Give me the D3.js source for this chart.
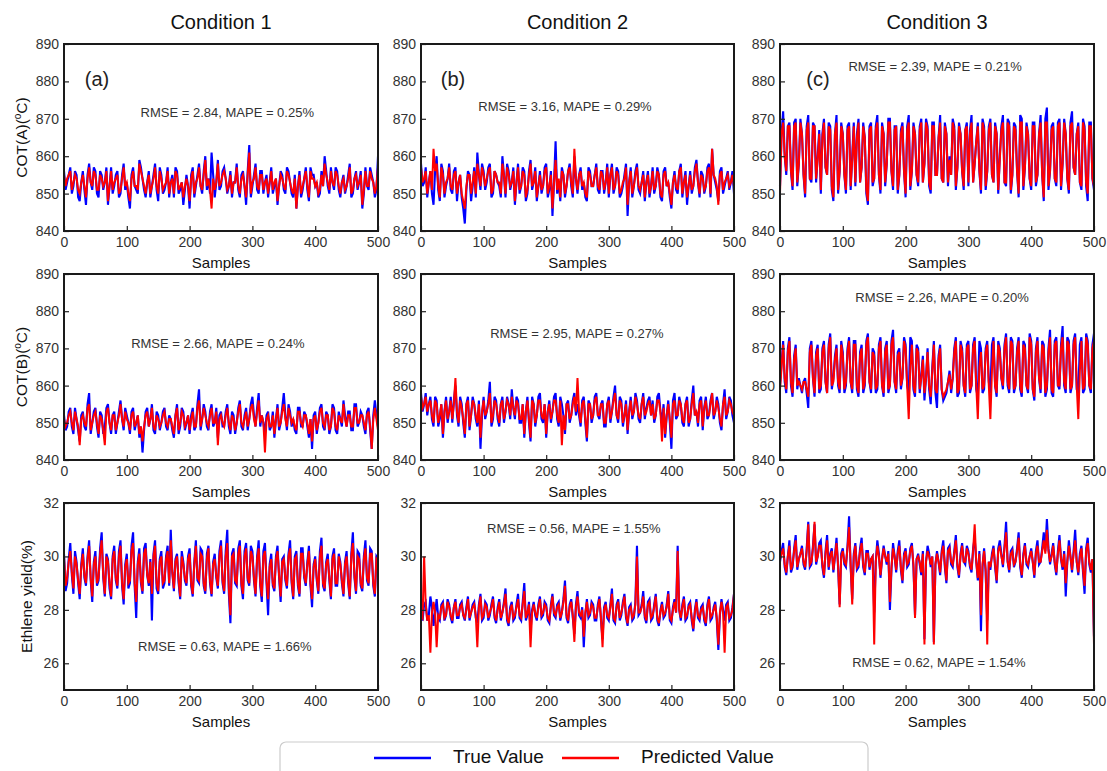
<!DOCTYPE html>
<html>
<head>
<meta charset="UTF-8">
<title>True vs Predicted</title>
<script src="https://cdn.jsdelivr.net/npm/d3@7"></script>
<style>
  body { margin: 0; background: #fff; }
  svg { display: block; font-family: 'Liberation Sans', Arial, sans-serif; }
  .tick text { fill: #333; font-size: 14px; }
  .tick line { stroke: #222; stroke-width: 1.2; }
</style>
</head>
<body>
<svg id="chart" width="1107" height="771"></svg>
<script>
// column titles / row labels
const conditions = ['Condition 1', 'Condition 2', 'Condition 3'];
const rowLabels = ['COT(A)', 'COT(B)', 'Ethlene yield(%)'];
const xTicks = [0, 100, 200, 300, 400, 500];
const cotTicks = [840, 850, 860, 870, 880, 890];
const yieldTicks = [26, 28, 30, 32];

// values, one every 2.5 samples (0..500)
// COT(A)
const trueA1 = [856,851,853,855,857,850,852,856,855,849,848,853,856,851,847,855,858,853,851,857,856,850,849,856,855,851,853,857,847,852,857,850,852,855,856,849,850,855,858,851,853,849,846,855,857,852,851,850,859,857,854,851,849,853,856,849,852,855,858,851,848,857,855,850,851,853,857,849,853,855,849,857,856,850,851,853,847,851,855,852,846,855,857,849,852,855,858,852,850,856,860,851,854,850,861,855,849,853,859,851,852,856,857,854,850,852,856,849,853,853,858,851,849,855,856,852,847,856,863,849,852,855,858,851,850,856,856,850,853,855,849,853,857,850,852,854,847,852,856,855,851,850,857,856,853,850,849,855,846,852,856,849,851,854,857,851,848,857,855,855,852,853,849,850,856,852,860,856,852,850,857,853,851,857,856,851,849,853,855,850,852,855,858,849,850,854,856,851,853,856,846,850,857,852,851,857,855,853,849,851,860];
const predA1 = [855,852,854,855,856,851,853,855,854,851,850,853,855,852,849,854,857,853,852,856,855,851,851,855,854,852,853,856,848,852,856,851,853,854,855,850,851,854,857,852,853,850,848,854,856,852,852,851,858,856,854,852,850,853,855,850,852,854,857,852,850,856,854,851,852,853,856,850,853,854,850,856,855,851,852,853,849,852,854,852,848,854,856,850,853,854,857,852,851,855,859,852,854,851,846,854,851,853,858,852,853,855,856,854,851,852,855,850,853,853,857,852,850,854,855,852,849,855,861,850,853,854,857,852,851,855,855,851,853,854,850,853,856,851,853,854,848,852,855,854,852,851,856,855,853,851,850,854,846,852,855,850,852,854,856,852,849,856,854,854,852,853,850,851,855,852,858,855,853,851,856,853,852,856,855,852,850,853,854,851,852,854,857,850,851,854,855,852,853,855,847,851,856,852,852,856,854,853,850,852,857];
const trueA2 = [858,852,853,857,849,853,856,850,847,856,860,851,848,858,856,849,852,854,858,851,850,856,857,848,853,855,849,846,842,851,856,855,848,852,857,849,861,855,851,858,856,851,853,857,858,849,850,856,855,853,852,849,860,855,849,858,856,851,853,857,847,853,858,850,852,857,856,848,850,856,859,851,853,857,848,852,856,850,852,857,858,849,851,856,844,853,864,850,853,848,857,855,849,852,856,858,852,849,860,854,850,855,857,851,853,849,848,857,856,852,852,855,858,851,850,856,856,850,853,858,849,855,858,850,852,857,856,849,850,852,855,858,844,853,857,849,852,856,858,851,850,853,856,848,853,856,849,852,857,850,852,857,855,849,848,856,857,852,853,849,846,853,856,851,850,856,858,849,853,856,847,852,856,850,852,857,859,853,849,856,855,850,852,857,858,849,862,855,853,851,848,856,857,850,852,854,856,851,853,856,850];
const predA2 = [857,853,854,856,850,853,856,851,862,856,858,852,849,857,855,850,853,854,857,852,851,855,856,850,853,855,850,848,846,852,855,855,850,853,856,850,858,855,852,857,855,852,854,856,857,850,851,856,855,853,853,850,858,855,850,857,855,852,853,856,848,853,857,851,852,856,855,849,851,855,858,852,853,856,849,852,855,851,852,856,857,850,852,855,846,853,859,851,854,849,856,855,850,852,856,857,853,850,862,854,851,855,856,852,853,850,849,856,855,852,852,855,857,852,851,856,855,851,853,857,850,855,857,851,852,856,855,850,851,853,854,857,847,853,856,850,852,855,857,852,851,853,855,849,853,855,850,852,856,851,852,856,855,850,849,855,856,852,853,850,847,853,855,852,851,856,857,850,853,855,849,852,855,851,852,856,858,853,850,855,854,851,852,856,857,850,862,855,854,852,847,855,856,851,853,854,855,852,853,855,852];
const trueA3 = [852,866,872,860,855,868,869,856,851,869,870,852,858,870,866,855,849,868,871,854,853,869,868,853,860,867,850,866,870,857,855,869,868,851,848,866,871,850,856,869,866,855,850,868,869,851,860,869,852,866,870,853,857,869,865,850,847,868,869,852,854,868,871,855,850,869,866,852,858,870,870,856,851,868,868,850,855,867,869,856,849,868,871,851,856,869,866,855,852,868,870,853,858,870,868,852,850,869,869,855,855,865,871,854,853,869,866,852,860,855,870,868,851,857,869,866,856,851,867,869,852,867,871,853,858,864,869,856,850,870,868,851,856,868,870,855,853,869,866,850,860,868,871,853,852,870,869,850,855,869,868,856,849,871,870,851,857,869,866,854,851,869,869,852,855,866,871,855,848,870,873,851,856,868,869,854,852,869,870,851,858,870,866,854,850,869,872,857,855,866,869,853,851,870,868,852,848,869,869,854,851];
const predA3 = [850,866,869,860,856,868,868,856,852,868,869,853,858,869,866,855,850,867,869,854,854,868,868,854,859,866,851,865,869,857,855,868,867,852,849,866,869,851,856,868,866,855,851,867,868,852,859,868,853,865,869,853,857,868,865,851,848,867,868,853,854,867,869,855,851,868,866,853,858,869,869,856,852,867,868,851,855,866,868,856,850,867,869,852,856,868,866,855,853,867,869,853,858,869,867,853,851,868,868,855,855,865,869,854,853,868,866,853,859,855,869,867,852,857,868,866,856,852,867,868,853,866,869,853,858,864,868,856,851,869,867,852,856,867,869,855,853,868,866,851,859,867,869,853,853,869,868,851,855,868,867,856,850,869,869,852,857,868,866,854,852,868,868,853,855,866,869,855,849,869,869,852,856,867,868,854,853,868,869,852,858,869,866,854,851,868,869,857,855,866,868,853,852,869,867,853,850,868,868,854,852];

// COT(B)
const trueB1 = [852,848,849,853,854,849,847,854,851,848,845,852,853,849,848,855,858,847,850,853,854,849,846,853,852,847,849,854,855,850,847,852,853,847,850,853,856,851,848,854,852,850,847,853,854,848,850,852,846,849,842,848,853,854,849,851,855,848,847,853,852,848,850,853,854,849,848,852,851,848,846,852,855,847,849,854,853,848,850,852,847,852,854,848,849,855,859,848,851,855,853,849,848,853,855,849,850,854,846,852,853,849,849,853,855,849,847,853,852,847,850,854,856,849,848,852,854,848,851,855,857,852,849,854,858,849,852,850,847,852,853,848,849,853,846,851,855,848,850,854,858,852,848,855,853,849,851,848,847,854,854,849,849,853,852,849,846,851,843,852,853,847,850,854,855,849,848,853,852,847,849,855,854,848,847,853,851,849,856,852,849,853,853,848,848,855,855,849,850,853,852,849,847,853,854,848,843,852,856,852,849];
const predB1 = [851,849,850,852,853,850,848,853,851,849,844,851,852,850,849,854,855,848,850,852,853,850,847,852,851,848,844,853,854,850,848,852,852,848,850,852,855,851,849,853,851,850,848,852,853,849,850,852,847,849,845,849,852,853,849,851,854,849,848,852,851,849,850,852,853,850,849,851,851,849,847,852,854,848,850,853,852,849,850,852,848,851,853,849,849,854,856,849,851,854,852,850,849,852,854,850,850,853,844,851,852,850,849,852,854,850,848,852,851,848,850,853,855,850,849,851,853,849,851,854,855,851,849,853,856,850,852,850,842,851,852,849,849,852,847,851,854,849,850,853,855,851,849,854,852,850,851,849,848,853,853,850,849,852,852,850,847,851,845,851,852,848,850,853,854,850,849,852,852,848,849,854,853,849,848,852,851,850,855,851,849,852,852,849,849,854,854,850,850,852,852,850,848,852,853,849,843,851,854,851,848];
const trueB2 = [858,853,855,858,852,855,857,851,849,857,856,849,851,855,846,853,857,850,853,857,850,856,860,852,849,857,855,850,846,855,857,848,852,857,855,851,849,856,843,852,857,851,853,856,861,849,851,857,856,851,849,855,857,850,853,857,855,851,859,854,851,857,856,850,850,855,846,853,857,850,845,857,855,849,852,857,858,851,850,855,846,853,856,850,853,857,858,851,849,857,855,852,847,855,856,850,852,856,858,852,855,852,849,856,857,850,845,856,855,850,852,857,858,852,851,855,856,849,849,855,857,850,853,857,860,852,850,857,856,849,852,856,847,853,857,851,853,858,856,851,850,855,858,851,854,856,857,852,856,850,852,857,858,853,850,855,846,852,856,850,843,856,858,851,852,857,855,850,849,855,857,849,851,856,860,852,853,849,856,857,848,854,857,851,852,856,858,851,853,857,855,850,848,855,859,851,853,857,856,852,850];
const predB2 = [857,854,855,857,853,855,856,852,850,856,855,850,852,855,847,853,856,851,853,856,851,855,862,853,850,856,854,851,847,855,856,849,852,856,855,852,850,855,846,853,856,852,853,855,858,850,852,856,855,852,850,855,856,851,853,856,855,852,857,854,852,856,855,851,851,855,847,853,856,851,846,856,855,850,852,856,856,852,851,855,847,853,855,851,853,856,856,852,850,856,844,852,848,855,855,851,852,855,857,853,862,853,850,855,856,851,846,855,855,851,852,856,857,852,852,855,855,850,850,855,856,851,853,856,858,852,851,856,855,850,852,855,848,853,856,852,853,857,855,852,851,855,857,852,853,855,856,852,855,851,852,856,856,853,845,854,847,852,855,851,846,855,856,852,852,856,855,851,850,855,856,850,851,855,858,852,853,850,855,856,849,854,856,852,852,855,858,852,853,856,854,851,849,855,857,852,853,856,855,853,852];
const trueB3 = [860,866,872,861,858,870,873,860,857,868,871,859,862,860,858,861,862,858,854,870,872,862,857,869,871,858,859,870,872,861,858,871,874,859,862,868,871,860,858,872,869,858,860,870,873,861,858,872,872,859,857,869,871,858,860,872,874,861,858,870,869,858,859,871,873,860,857,870,872,858,860,872,875,861,858,869,870,859,862,873,871,860,858,873,872,859,857,871,870,858,863,868,856,862,870,859,855,865,872,858,854,868,871,859,856,857,858,861,864,858,862,870,873,857,858,872,870,860,857,871,872,858,860,871,873,859,857,872,870,858,859,870,872,861,858,871,873,860,857,872,870,862,859,871,874,860,858,873,872,858,860,870,873,859,857,872,871,860,858,874,872,859,856,870,873,862,858,872,871,857,859,870,875,858,857,872,873,860,859,871,876,860,858,873,872,858,860,872,874,859,858,871,873,858,859,874,872,860,858,871,874];
const predB3 = [859,865,871,862,859,869,872,861,858,867,870,860,861,860,859,861,861,859,857,869,871,862,858,868,870,859,860,869,871,861,858,870,873,860,861,867,870,861,859,871,868,859,861,869,872,861,859,871,871,860,858,868,870,859,861,871,873,861,859,869,868,859,860,870,872,860,858,869,871,859,860,871,873,861,859,868,869,860,862,872,870,860,851,865,871,860,858,870,869,859,862,867,858,862,869,860,857,864,871,859,858,867,870,859,857,858,859,861,863,859,862,869,872,858,859,871,869,860,858,870,871,859,860,870,872,860,851,865,869,859,860,869,871,860,851,864,872,860,858,871,869,862,860,870,873,861,859,872,871,859,860,869,872,860,858,871,870,860,859,873,871,859,857,869,872,862,859,871,870,858,860,869,873,859,858,871,872,860,860,870,873,861,859,872,871,859,860,871,873,860,851,864,872,859,860,873,871,860,859,870,872];

// Ethylene yield (%)
const trueE1 = [30.1,28.7,29.0,29.9,30.5,29.3,28.6,30.2,29.8,29.0,28.4,29.7,30.3,29.2,28.9,30.0,30.6,29.1,28.3,29.8,30.2,28.9,29.1,30.3,30.9,29.2,28.5,30.1,29.9,28.8,28.4,30.0,30.4,29.1,28.8,30.2,30.6,28.9,28.2,29.7,30.1,28.8,29.0,30.4,30.9,28.9,27.7,29.8,30.3,29.0,28.6,30.3,30.5,29.3,28.9,29.9,27.6,30.1,30.6,28.8,28.6,29.9,30.2,28.8,29.0,30.0,30.4,28.9,31.0,29.4,28.7,29.9,30.1,29.0,28.4,30.2,29.8,29.1,28.9,30.0,30.3,28.9,28.5,29.8,30.6,29.1,29.0,30.3,30.2,28.9,28.6,30.1,30.4,29.0,28.5,29.8,30.1,29.2,28.8,30.2,30.6,29.0,28.6,30.2,31.0,28.6,27.5,30.1,30.3,29.0,28.9,30.3,30.6,28.9,28.4,30.2,30.5,29.1,28.9,30.4,30.2,29.1,28.5,30.0,30.6,28.9,28.3,30.2,30.5,29.0,27.8,29.7,30.1,28.9,28.7,30.0,30.4,29.2,28.3,29.9,30.0,29.1,28.8,30.1,30.6,29.0,28.4,30.0,30.2,28.9,28.5,30.3,30.3,29.2,28.9,29.8,30.4,28.9,28.1,29.7,30.0,29.1,28.6,30.2,30.7,28.9,28.7,29.8,30.1,29.1,28.4,30.0,30.3,28.9,28.9,30.1,29.8,29.0,28.5,29.8,30.2,29.0,28.4,30.1,30.9,29.2,28.6,30.2,30.1,28.9,28.7,30.0,30.6,29.1,28.9,30.3,30.2,28.9,28.5,30.0,29.9];
const predE1 = [30.0,28.9,29.2,29.8,30.2,29.4,28.8,30.0,29.7,29.1,28.6,29.6,30.1,29.3,29.0,29.9,30.4,29.2,28.5,29.7,30.0,29.0,29.2,30.1,30.6,29.3,28.6,30.0,29.8,29.0,28.5,29.9,30.2,29.2,28.9,30.0,30.4,29.0,28.4,29.6,29.9,29.0,29.1,30.2,30.5,29.0,28.3,29.7,30.1,29.1,28.7,30.1,30.3,29.3,29.0,29.8,28.6,30.0,30.4,29.0,28.7,29.8,30.0,29.0,29.1,29.9,30.2,29.0,30.6,29.4,28.8,29.8,30.0,29.1,28.5,30.0,29.7,29.2,29.0,29.9,30.1,29.0,28.6,29.7,30.4,29.2,29.1,30.1,30.0,29.0,28.7,29.9,30.3,29.1,28.6,29.7,29.9,29.3,28.9,30.0,30.4,29.1,28.7,30.0,30.5,28.8,27.8,30.0,30.1,29.1,29.0,30.1,30.4,29.0,28.6,30.0,30.3,29.2,29.0,30.2,30.0,29.2,28.6,29.9,30.3,29.0,28.5,30.0,30.2,29.1,28.4,29.6,29.9,29.0,28.8,29.9,30.2,29.3,28.5,29.8,29.9,29.2,28.9,30.0,30.3,29.1,28.5,29.9,30.0,29.0,28.6,30.1,30.1,29.3,29.0,29.7,30.2,29.0,28.4,29.6,29.9,29.2,28.7,30.0,30.4,29.0,28.8,29.7,29.9,29.2,28.5,29.9,30.1,29.0,29.0,30.0,29.7,29.1,28.6,29.7,30.0,29.1,28.5,30.0,30.5,29.3,28.7,30.0,29.9,29.0,28.8,29.9,30.3,29.2,29.0,30.1,30.1,29.0,28.6,29.9,29.8];
const trueE2 = [27.9,27.6,28.2,28.3,27.6,27.8,28.5,28.1,27.4,27.9,28.4,27.7,27.6,28.2,28.3,27.6,27.8,28.4,28.2,27.7,27.5,28.1,28.4,27.7,27.7,28.2,28.3,27.8,27.6,28.1,28.5,27.6,27.9,28.2,28.3,27.7,27.5,28.2,28.6,27.6,27.7,28.3,28.2,27.6,27.8,28.2,28.5,27.7,27.5,28.1,28.4,27.6,27.9,28.3,28.8,27.6,27.4,28.1,28.3,27.6,27.7,28.2,28.6,27.7,27.6,28.3,29.0,27.6,27.8,28.3,27.2,28.0,28.3,27.8,27.6,28.2,28.5,27.7,27.8,28.3,28.2,27.6,27.5,28.2,28.6,27.8,27.7,28.2,28.3,27.6,27.9,28.4,29.1,27.7,27.5,28.2,28.4,27.7,27.1,28.2,28.7,27.8,27.7,28.1,26.6,27.8,28.4,27.7,27.8,28.3,28.2,27.6,27.6,28.2,28.5,27.6,26.9,28.1,28.3,27.7,27.6,28.2,28.8,27.6,27.5,28.2,28.4,27.6,27.8,28.3,28.6,27.7,27.4,28.1,28.2,27.6,27.7,28.3,30.4,27.8,27.9,28.2,28.7,27.7,27.5,28.3,28.4,27.6,27.7,28.2,28.6,27.6,27.4,28.0,28.3,27.7,27.8,28.2,28.7,27.6,27.5,28.1,28.4,27.9,30.4,28.0,27.6,28.2,28.5,27.6,27.7,28.2,28.3,27.6,27.2,28.0,28.4,27.7,27.6,28.1,28.2,27.6,27.4,28.2,28.5,27.6,27.7,28.1,28.3,27.6,26.5,27.8,28.4,28.0,27.6,28.2,28.3,27.6,27.7,28.1,28.6];
const predE2 = [27.8,27.7,30.0,28.2,27.6,27.8,26.4,27.9,28.3,27.9,26.6,27.8,27.7,28.1,28.2,27.7,27.8,28.3,28.1,27.8,27.6,28.1,28.3,27.8,27.8,28.1,28.2,27.8,27.7,28.0,28.4,27.7,27.9,28.1,28.2,27.8,26.6,28.1,28.5,27.7,27.8,28.2,28.1,27.7,27.9,28.1,28.4,27.8,27.6,28.0,28.3,27.7,27.9,28.2,28.6,27.7,27.5,28.0,28.2,27.7,27.8,28.1,28.4,27.8,27.7,28.2,28.7,27.7,27.9,28.2,26.6,27.9,28.2,27.9,27.7,28.1,28.4,27.8,27.9,28.2,28.1,27.7,27.6,28.1,28.5,27.9,27.8,28.1,28.2,27.7,27.9,28.3,28.9,27.8,27.6,28.1,28.3,27.8,26.8,28.1,28.5,27.9,27.8,28.0,27.0,27.9,28.3,27.8,27.9,28.2,28.1,27.7,27.7,28.1,28.4,27.7,26.6,28.0,28.2,27.8,27.7,28.1,28.6,27.7,27.6,28.1,28.3,27.7,27.9,28.2,28.5,27.8,27.5,28.0,28.1,27.7,27.8,28.2,30.0,27.9,27.9,28.1,28.5,27.8,27.6,28.2,28.3,27.7,27.8,28.1,28.5,27.7,27.5,27.9,28.2,27.8,27.9,28.1,28.6,27.7,27.6,28.0,28.3,27.9,30.2,28.0,27.7,28.1,28.4,27.7,27.8,28.1,28.2,27.7,27.3,27.9,28.3,27.8,27.7,28.0,28.1,27.7,27.5,28.1,28.4,27.7,27.8,28.0,28.2,27.7,26.7,27.9,28.3,27.9,26.4,28.1,28.2,27.7,27.8,28.0,28.6];
const trueE3 = [29.8,30.2,30.5,29.6,29.3,30.0,30.6,29.4,29.6,30.3,30.8,29.5,29.9,30.1,30.4,29.7,29.5,30.3,31.3,29.6,29.7,30.4,31.2,29.7,30.0,30.5,30.6,29.6,29.2,30.2,30.8,29.5,30.1,30.3,29.4,30.0,30.7,29.6,28.2,30.1,30.3,29.7,29.6,30.4,31.5,29.6,28.4,30.1,30.5,29.5,29.6,30.3,30.7,29.6,29.3,30.2,30.2,29.5,29.9,30.0,27.9,29.8,30.6,30.1,29.2,29.9,30.4,30.0,29.7,30.2,28.0,29.5,30.5,30.0,29.4,30.2,30.6,29.5,29.0,30.1,30.3,29.6,29.7,30.3,30.5,29.6,27.8,29.9,30.1,29.7,29.3,30.2,26.9,29.8,30.4,30.1,29.6,30.0,26.8,29.7,30.2,29.8,29.3,30.2,30.6,29.6,29.0,30.3,30.4,29.7,29.6,30.2,30.8,29.6,29.2,30.1,30.5,29.8,29.7,30.4,30.2,29.6,29.4,30.3,30.7,29.8,29.1,30.2,27.2,29.6,30.3,29.4,27.6,29.8,29.5,30.1,30.4,29.6,29.0,30.3,30.6,30.1,29.6,30.4,31.3,29.8,29.4,30.2,30.3,29.6,29.8,30.3,30.9,29.6,29.2,30.1,30.5,29.7,29.6,30.0,30.3,29.8,29.2,30.2,30.6,29.7,29.8,30.3,30.9,30.2,31.4,30.3,29.7,30.1,30.5,29.7,29.3,30.2,30.8,29.9,29.5,30.2,28.5,29.8,30.6,30.0,29.4,30.2,31.0,29.8,29.3,30.1,30.4,29.4,28.6,30.3,30.7,29.7,29.4,29.9,27.0];
const predE3 = [29.9,30.1,30.3,29.7,29.4,30.0,30.4,29.5,29.7,30.2,30.6,29.6,29.9,30.1,30.3,29.8,29.6,30.2,31.2,29.7,29.8,30.3,31.3,29.8,30.0,30.4,30.4,29.7,29.3,30.1,30.6,29.6,30.0,30.2,29.5,30.0,30.5,29.7,28.1,30.0,30.2,29.8,29.7,30.3,31.1,29.7,28.2,30.0,30.4,29.6,29.7,30.2,30.5,29.7,29.4,30.1,30.1,29.6,29.9,30.0,26.7,29.8,30.4,30.0,29.3,29.9,30.3,30.0,29.8,30.1,28.3,29.6,30.3,30.0,29.5,30.1,30.4,29.6,29.1,30.0,30.2,29.7,29.8,30.2,30.4,29.7,27.7,29.9,30.0,29.8,29.4,30.1,26.7,29.8,30.2,30.0,29.7,30.0,26.7,29.7,30.1,29.8,29.4,30.1,30.4,29.7,29.1,30.2,30.3,29.8,29.7,30.1,30.6,29.7,29.3,30.0,30.4,29.8,29.8,30.3,30.1,29.7,29.5,30.2,31.2,29.8,29.2,30.1,27.8,29.7,30.2,29.5,26.7,29.8,29.6,30.0,30.3,29.7,29.1,30.2,30.4,30.0,29.7,30.3,30.9,29.8,29.5,30.1,30.2,29.7,29.8,30.2,30.7,29.7,29.3,30.0,30.4,29.8,29.7,30.0,30.2,29.8,29.3,30.1,30.4,29.8,29.8,30.2,30.6,30.1,31.0,30.2,29.8,30.0,30.4,29.8,29.4,30.1,30.6,29.9,29.6,30.1,29.0,29.8,30.4,30.0,29.5,30.1,30.6,29.8,29.4,30.0,30.3,29.5,28.9,30.2,30.5,29.8,29.5,29.9,26.7];

const panelTags = ['(a)', '(b)', '(c)'];
const metrics = [
  ['RMSE = 2.84, MAPE = 0.25%', 'RMSE = 3.16, MAPE = 0.29%', 'RMSE = 2.39, MAPE = 0.21%'],
  ['RMSE = 2.66, MAPE = 0.24%', 'RMSE = 2.95, MAPE = 0.27%', 'RMSE = 2.26, MAPE = 0.20%'],
  ['RMSE = 0.63, MAPE = 1.66%', 'RMSE = 0.56, MAPE = 1.55%', 'RMSE = 0.62, MAPE = 1.54%']
];

// layout
const colX = [[64, 378], [421, 734], [780, 1094]];
const rowY = [[44, 231], [274, 460], [503, 690]];
const series = [
  [[trueA1, predA1], [trueA2, predA2], [trueA3, predA3]],
  [[trueB1, predB1], [trueB2, predB2], [trueB3, predB3]],
  [[trueE1, predE1], [trueE2, predE2], [trueE3, predE3]]
];
// where the metric text sits, in data units [sample, value]
const notePos = [
  [[260, 871.5], [230, 873], [247, 883.6]],
  [[245, 871], [249, 873.6], [258, 883.3]],
  [[256, 26.6], [244, 31.0], [253, 26.0]]
];

const svg = d3.select('#chart');
const BLUE = '#0000ff', RED = '#ff0000';

series.forEach((rowSeries, r) => {
  rowSeries.forEach(([tv, pv], c) => {
    const x = d3.scaleLinear().domain([0, 500]).range(colX[c]);
    const y = d3.scaleLinear()
      .domain(r < 2 ? [840, 890] : [25, 32])
      .range([rowY[r][1], rowY[r][0]]);

    const g = svg.append('g');
    const line = d3.line()
      .x((d, i, arr) => x(i * 500 / (arr.length - 1)))
      .y(d => y(d));

    g.append('path').datum(tv)
      .attr('d', line).attr('fill', 'none')
      .attr('stroke', BLUE).attr('stroke-width', 2.1);
    g.append('path').datum(pv)
      .attr('d', line).attr('fill', 'none')
      .attr('stroke', RED).attr('stroke-width', 2);

    // axes with inward ticks
    g.append('g')
      .attr('transform', `translate(0,${rowY[r][1]})`)
      .call(d3.axisBottom(x).tickValues(xTicks).tickSizeInner(-5).tickSizeOuter(0).tickPadding(6))
      .call(a => a.select('.domain').remove());
    g.append('g')
      .attr('transform', `translate(${colX[c][0]},0)`)
      .call(d3.axisLeft(y).tickValues(r < 2 ? cotTicks : yieldTicks)
        .tickFormat(d3.format('d')).tickSizeInner(-5).tickSizeOuter(0).tickPadding(5))
      .call(a => a.select('.domain').remove());

    g.append('rect')
      .attr('x', colX[c][0]).attr('y', rowY[r][0])
      .attr('width', colX[c][1] - colX[c][0])
      .attr('height', rowY[r][1] - rowY[r][0])
      .attr('fill', 'none').attr('stroke', '#1a1a1a').attr('stroke-width', 2);

    g.append('text')
      .attr('x', (colX[c][0] + colX[c][1]) / 2)
      .attr('y', rowY[r][1] + 37)
      .attr('text-anchor', 'middle')
      .attr('font-size', 15).attr('fill', '#111')
      .text('Samples');

    const np = notePos[r][c];
    g.append('text')
      .attr('x', x(np[0])).attr('y', y(np[1]))
      .attr('text-anchor', 'middle').attr('dominant-baseline', 'middle')
      .attr('font-size', 13).attr('fill', '#333')
      .text(metrics[r][c]);

    if (r === 0) {
      g.append('text')
        .attr('x', c === 2 ? 818 : c === 1 ? 453 : 97)
        .attr('y', 81)
        .attr('text-anchor', 'middle').attr('dominant-baseline', 'middle')
        .attr('font-size', 20).attr('fill', '#222')
        .text(panelTags[c]);
    }
  });
});

// column titles
conditions.forEach((t, c) => {
  svg.append('text')
    .attr('x', (colX[c][0] + colX[c][1]) / 2).attr('y', 29)
    .attr('text-anchor', 'middle').attr('font-size', 20).attr('fill', '#111')
    .text(t);
});

// row labels
rowLabels.forEach((t, r) => {
  const cx = r === 2 ? 28 : 23, cy = (rowY[r][0] + rowY[r][1]) / 2;
  const txt = svg.append('text')
    .attr('transform', `translate(${cx},${cy}) rotate(-90)`)
    .attr('text-anchor', 'middle').attr('dominant-baseline', 'middle')
    .attr('font-size', 15.5).attr('fill', '#111');
  if (r < 2) {
    txt.append('tspan').text(t + '(');
    txt.append('tspan').attr('dy', -5).attr('font-size', 10).text('o');
    txt.append('tspan').attr('dy', 5).text('C)');
  } else {
    txt.text(t);
  }
});

// legend
const lg = svg.append('g');
lg.append('rect')
  .attr('x', 280).attr('y', 742).attr('width', 588).attr('height', 40)
  .attr('rx', 6).attr('fill', '#fff').attr('stroke', '#ccc').attr('stroke-width', 1.2);
[['True Value', BLUE, 374], ['Predicted Value', RED, 562]].forEach(([name, col, x0]) => {
  lg.append('line')
    .attr('x1', x0).attr('x2', x0 + 57).attr('y1', 758).attr('y2', 758)
    .attr('stroke', col).attr('stroke-width', 2.5);
  lg.append('text')
    .attr('x', x0 + 79).attr('y', 758)
    .attr('dominant-baseline', 'middle').attr('font-size', 19).attr('fill', '#111')
    .text(name);
});
</script>
</body>
</html>
